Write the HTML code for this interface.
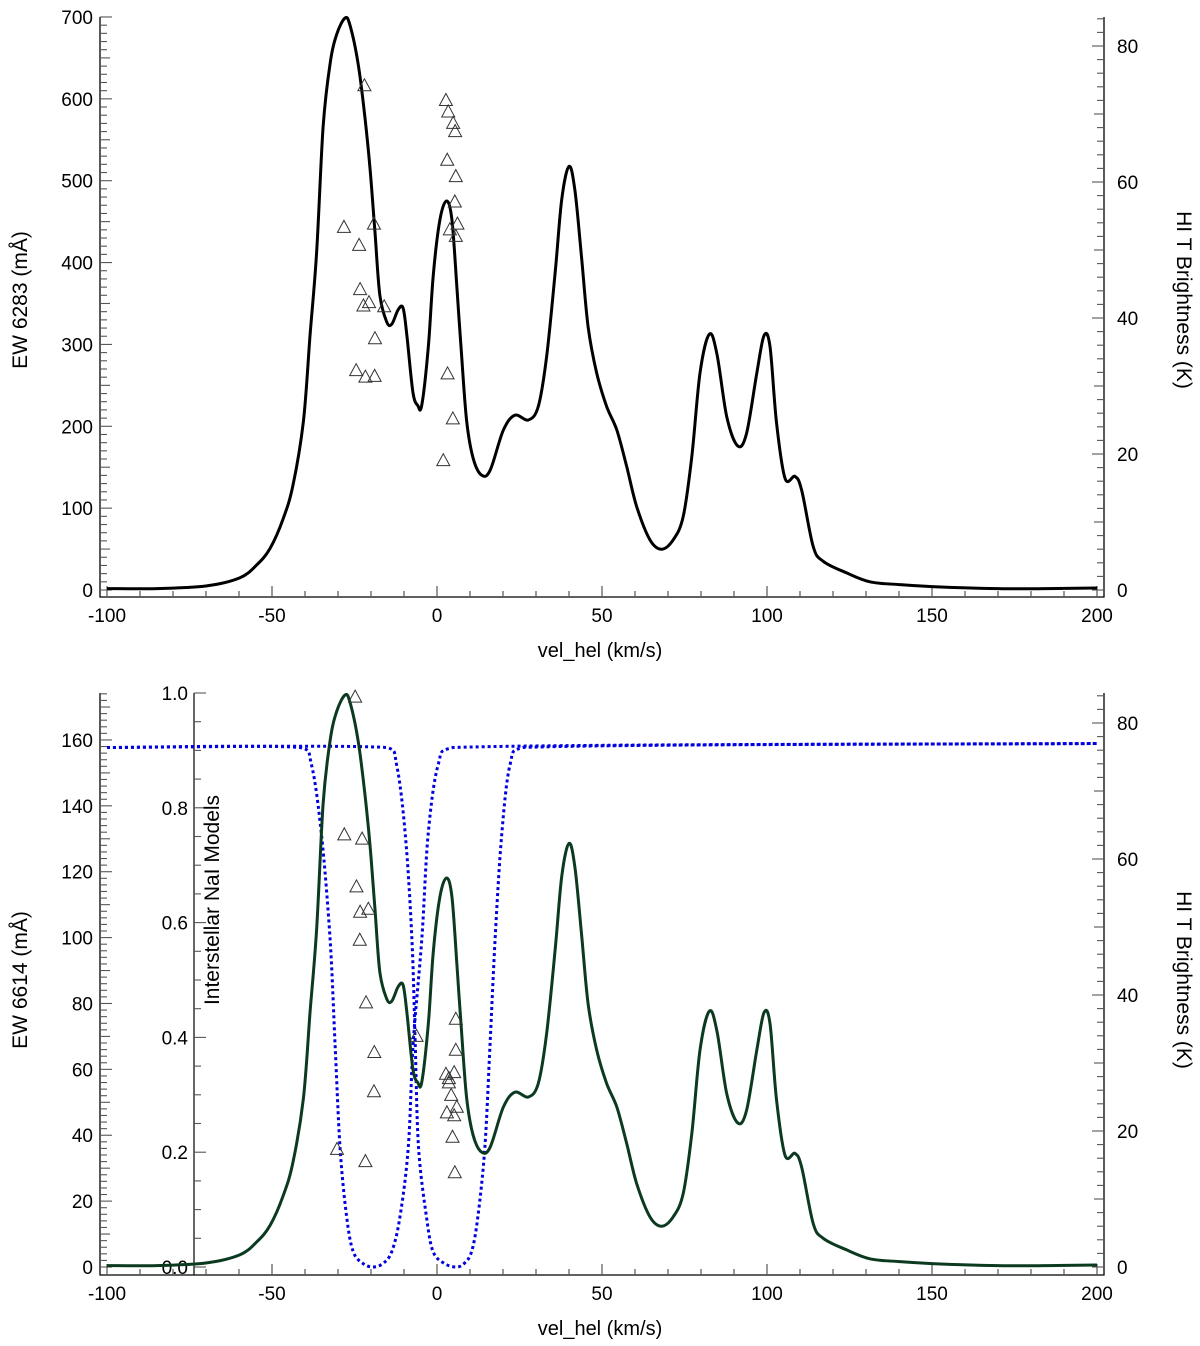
<!DOCTYPE html>
<html><head><meta charset="utf-8">
<style>
html,body{margin:0;padding:0;background:#fff;}
svg{display:block;font-family:"Liberation Sans","DejaVu Sans",sans-serif;}
</style></head>
<body>
<svg id="chart" width="1200" height="1346" viewBox="0 0 1200 1346" xmlns="http://www.w3.org/2000/svg"></svg>
<script>
// ---- data ----
const hiVel = [-100,-85,-69.8,-59.7,-54.6,-50.6,-46.6,-43.6,-40.5,-38.5,-36.5,-34.5,-32.4,-30.4,-27.9,-26.4,-23.9,-21.8,-20.3,-18.8,-17.3,-15.2,-13.7,-11.8,-10.3,-9.2,-7.3,-5.8,-4.6,-2.6,-1.1,0.9,2.9,4.5,6,7.5,9,11,13.5,16.1,20.1,23.6,27.7,30.7,33.2,35.8,37.8,40,41.8,43.8,45.8,48.4,51.4,54.5,57.5,60.5,64.5,68.1,71.6,74.6,77.2,79.7,82.5,84.8,87.8,91.1,93.8,96.9,99.1,100.9,102.9,105.5,108.5,110.5,114,117.1,124.2,131.2,140,150,170,185,200];
const hiK = [0.2,0.2,0.6,1.8,3.7,6.1,10.5,15.5,24.8,37.2,49.6,68.1,77.4,81.7,84.1,83.1,77.4,69.3,62,52.6,43.3,39.4,39.1,41.2,41.5,37.8,29.1,27.1,27.2,35.9,46.5,54.5,57.2,54.5,44.7,34.1,24.8,19.3,16.9,17.6,23.5,25.7,25,27,34.3,46.6,57.4,62.3,58.8,49,38.7,31.9,27,23.5,18.1,12.3,7.4,6,7.4,10.8,19.6,31.9,37.6,34.8,25.5,21.2,23,31.9,37.4,35.8,24.5,16.4,16.7,14.7,6.4,4.2,2.5,1.2,0.8,0.5,0.2,0.2,0.3];
const ew6283Vel = [-28.2,-22,-23.6,-23.3,-22.3,-20.6,-19.1,-18.8,-16,-24.5,-21.7,-18.9,2.7,3.4,4.9,5.5,3.1,5.7,5.4,3.9,6.2,5.7,3.2,4.8,1.9];
const ew6283Val = [443,616,421,367,347,351,447,307,346,268,260,261,598,584,570,560,525,505,474,440,447,432,264,209,158];
const ew6614Vel = [-28.1,-22.7,-24.4,-23.3,-20.8,-23.4,-21.5,-19,-19.1,-30.3,-21.7,-24.8,-6.2,5.7,5.7,2.7,5.2,3.6,4.3,6,3,5.2,4.7,5.4,3.6];
const ew6614Val = [131.2,129.9,115.4,107.7,108.6,99.2,80.2,65.1,53.2,35.7,32,173,70,75.2,65.8,58.5,59,55.9,52.1,48.5,46.8,45.9,39.4,28.6,57.2];
const naiAVel = [-100,-41.5,-38,-35,-32.4,-30.9,-29.4,-27.4,-25.4,-22.4,-19.4,-16.4,-13.7,-11.2,-8.7,-7.2,-4.6,-2.7,0.3,4.8,200];
const naiAVal = [0.905,0.905,0.874,0.753,0.571,0.39,0.209,0.088,0.027,0.006,0,0.006,0.027,0.088,0.209,0.39,0.571,0.753,0.874,0.905,0.912];
const naiBVel = [-100,-15.2,-12.2,-9.6,-7.6,-6.6,-5.6,-3.2,-1.2,2.3,5.8,8.2,10.5,12.4,14.5,16.1,17.6,19.6,22.1,26,200];
const naiBVal = [0.905,0.905,0.874,0.753,0.571,0.39,0.209,0.088,0.027,0.006,0,0.006,0.027,0.088,0.209,0.39,0.571,0.753,0.874,0.905,0.912];
const xTicks = [-100,-50,0,50,100,150,200];
const topLeftTicks = [0,100,200,300,400,500,600,700];
const rightTicks = [0,20,40,60,80];
const botLeftTicks = [0,20,40,60,80,100,120,140,160];
const innerTicks = ["0.0","0.2","0.4","0.6","0.8","1.0"];

// ---- helpers ----
const svg = document.getElementById('chart');
const NS = 'http://www.w3.org/2000/svg';
function mk(tag, attrs, parent){const e=document.createElementNS(NS,tag);for(const k in attrs)e.setAttribute(k,attrs[k]);(parent||svg).appendChild(e);return e;}
const X = v => 437 + (v)*3.3;
function isMult(v,s){return Math.abs(v/s-Math.round(v/s))<1e-6;}

function panel(p){
  const g = mk('g',{});
  
  
  const yL = v => p.y0 - v*p.lScale;
  const yR = v => p.y0 - v*6.8;
  const ax = mk('path',{d:`M100 ${p.top} L100 ${p.axisY} L1104 ${p.axisY} L1104 ${p.top}`,fill:'none',stroke:'#000','stroke-width':1.3},g);
  
  
  for(let v=-100; v<=200; v+=10){
    const major = v%50===0;
    mk('line',{x1:X(v),x2:X(v),y1:p.axisY,y2:p.axisY-(major?11:6),stroke:'#555','stroke-width':1.2},g);
  }
  xTicks.forEach(v=>{
    const t = mk('text',{x:X(v),y:p.axisY+25,'font-size':19,'text-anchor':'middle',fill:'#000'},g);
    t.textContent = v;
    
    
  });
  const xt = mk('text',{x:600,y:p.axisY+60,'font-size':20,'text-anchor':'middle'},g);
  xt.textContent='vel_hel (km/s)';
  
  
  for(let v=0; v<=p.lMax+1e-9; v+=p.lMinor){
    const y=yL(v); if(y<p.top-1) break;
    const len = isMult(v,p.lMajor)?12:(isMult(v,p.lMajor/2)?10:7);
    mk('line',{x1:100,x2:100+len,y1:y,y2:y,stroke:'#555','stroke-width':1.1},g);
  }
  p.lTicks.forEach(v=>{
    const t=mk('text',{x:93,y:yL(v)+7,'font-size':19,'text-anchor':'end'},g);
    t.textContent=v;
    
    
  });
  for(let v=0; v<=84; v+=2){
    const len = v%20===0?12:(v%10===0?10:7);
    mk('line',{x1:1104,x2:1104-len,y1:yR(v),y2:yR(v),stroke:'#555','stroke-width':1.1},g);
  }
  rightTicks.forEach(v=>{
    const t=mk('text',{x:1117,y:yR(v)+7,'font-size':19},g);
    t.textContent=v;
    
    
  });
  const lt=mk('text',{x:0,y:0,'font-size':21,'text-anchor':'middle',transform:`translate(27 ${p.titleY}) rotate(-90)`},g);
  lt.textContent=p.leftTitle;
  
  
  const rt=mk('text',{x:0,y:0,'font-size':21,'text-anchor':'middle',transform:`translate(1177 ${p.titleY}) rotate(90)`},g);
  rt.textContent='HI T Brightness (K)';
  
  
  return {g,yL,yR};
}

function curve(g, vx, vy, yf, color, width, dash, name){
  const pts = vx.map((v,i)=>[X(v), yf(vy[i])]);
  let d = 'M'+pts[0][0].toFixed(1)+' '+pts[0][1].toFixed(1);
  for(let i=0;i<pts.length-1;i++){
    const p0=pts[Math.max(0,i-1)], p1=pts[i], p2=pts[i+1], p3=pts[Math.min(pts.length-1,i+2)];
    const c1=[p1[0]+(p2[0]-p0[0])/6, p1[1]+(p2[1]-p0[1])/6];
    const c2=[p2[0]-(p3[0]-p1[0])/6, p2[1]-(p3[1]-p1[1])/6];
    c1[0]=Math.min(Math.max(c1[0],p1[0]),p2[0]); c2[0]=Math.min(Math.max(c2[0],p1[0]),p2[0]);
    d += ` C${c1[0].toFixed(1)} ${c1[1].toFixed(1)} ${c2[0].toFixed(1)} ${c2[1].toFixed(1)} ${p2[0].toFixed(1)} ${p2[1].toFixed(1)}`;
  }
  const attrs={d,fill:'none',stroke:color,'stroke-width':width,'stroke-linejoin':'round'};
  if(dash) attrs['stroke-dasharray']=dash;
  const p=mk('path',attrs,g);
  
  
}
function tris(g, vx, vy, yf, name){
  vx.forEach((v,i)=>{
    const x=X(v), y=yf(vy[i]);
    const t=mk('path',{d:`M${x-6.5} ${y+5} L${x} ${y-7} L${x+6.5} ${y+5} Z`,fill:'none',stroke:'#333','stroke-width':1},g);
    
    
  });
}

// ---- top panel ----
const topPanel = panel({name:'top-panel',top:17,axisY:597,y0:590,lScale:0.8186,lMax:700,lMinor:10,lMajor:100,lTicks:topLeftTicks,leftTitle:'EW 6283 (mÅ)',titleY:300});
curve(topPanel.g, hiVel, hiK, topPanel.yR, '#000', 3, null, 'hi-brightness-line');
tris(topPanel.g, ew6283Vel, ew6283Val, topPanel.yL, 'ew6283-point');

// ---- bottom panel ----
const botPanel = panel({name:'bottom-panel',top:693,axisY:1275,y0:1267,lScale:3.294,lMax:175,lMinor:2,lMajor:20,lTicks:botLeftTicks,leftTitle:'EW 6614 (mÅ)',titleY:980});
const yI = v => 1267 - v*574;
const inner = mk('line',{x1:194,x2:194,y1:693,y2:1275,stroke:'#000','stroke-width':1.2},botPanel.g);


for(let i=0;i<=20;i++){
  const v=i*0.05, major=i%4===0;
  mk('line',{x1:194,x2:194+(major?12:7),y1:yI(v),y2:yI(v),stroke:'#555','stroke-width':1.1},botPanel.g);
}
innerTicks.forEach(s=>{
  const t=mk('text',{x:188,y:yI(parseFloat(s))+7,'font-size':19,'text-anchor':'end'},botPanel.g);
  t.textContent=s;
  
  
});
const it=mk('text',{x:0,y:0,'font-size':21,'text-anchor':'middle',transform:'translate(219 900) rotate(-90)'},botPanel.g);
it.textContent='Interstellar NaI Models';


curve(botPanel.g, naiAVel, naiAVal, yI, '#0000e0', 3, '3 3', 'nai-model-a-line');
curve(botPanel.g, naiBVel, naiBVal, yI, '#0000e0', 3, '3 3', 'nai-model-b-line');
curve(botPanel.g, hiVel, hiK, botPanel.yR, '#0b3a20', 3, null, 'hi-brightness-line');
tris(botPanel.g, ew6614Vel, ew6614Val, botPanel.yL, 'ew6614-point');
</script>
</body></html>
